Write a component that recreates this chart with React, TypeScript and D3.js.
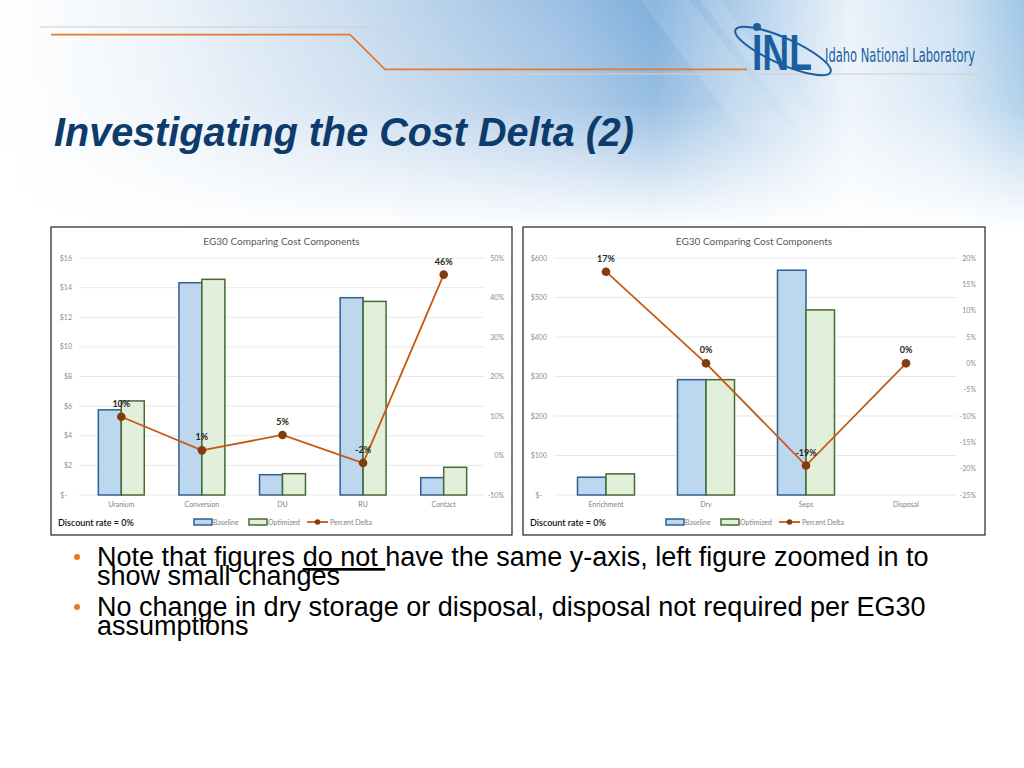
import React from 'react';
import * as d3 from 'd3';

// ---------- Data ----------
const leftCategories = ['Uranium', 'Conversion', 'DU', 'RU', 'Contact'];
const leftBaseline = [5.75, 14.33, 1.37, 13.32, 1.17];
const leftOptimized = [6.35, 14.56, 1.44, 13.07, 1.87];
const leftDelta = [0.098, 0.013, 0.052, -0.019, 0.458];
const leftCostTicks = [0, 2, 4, 6, 8, 10, 12, 14, 16];
const leftPctTicks = [-0.1, 0, 0.1, 0.2, 0.3, 0.4, 0.5];

const rightCategories = ['Enrichment', 'Dry', 'Seps', 'Disposal'];
const rightBaseline = [45, 292, 569, 0];
const rightOptimized = [53.5, 292, 468.6, 0];
const rightDelta = [0.174, 0, -0.194, 0];
const rightCostTicks = [0, 100, 200, 300, 400, 500, 600];
const rightPctTicks = [-0.25, -0.2, -0.15, -0.1, -0.05, 0, 0.05, 0.1, 0.15, 0.2];

const chartTitle = 'EG30 Comparing Cost Components';
const discountText = 'Discount rate = 0%';
const legendLabels = ['Baseline', 'Optimized', 'Percent Delta'];

const slideTitle = 'Investigating the Cost Delta (2)';
const bullets = [
  { before: 'Note that figures ', under: 'do not ', after: 'have the same y-axis, left figure zoomed in to', cont: 'show small changes' },
  { before: 'No change in dry storage or disposal, disposal not required per EG30', under: '', after: '', cont: 'assumptions' },
];

// ---------- Styles ----------
const C = {
  baseFill: '#bdd7ee',
  baseStroke: '#2f5f91',
  optFill: '#e2efda',
  optStroke: '#456b30',
  line: '#c55a11',
  marker: '#843c0c',
  grid: '#e3e3e3',
  tick: '#8c8c8c',
};
const chartFont = 'Lato, "Open Sans", sans-serif';

const pct = (v: number) => `${Math.round(v * 100)}%`;
const money = (v: number) => (v === 0 ? '$-' : `$${v}`);

type ChartProps = {
  fx: number; fy: number; fw: number; fh: number;
  pl: number; pr: number; pt: number; pb: number;
  categories: string[]; baseline: number[]; optimized: number[]; delta: number[];
  costMax: number; costTicks: number[]; pctDomain: [number, number]; pctTicks: number[];
};

function Chart(p: ChartProps) {
  const x = d3.scaleBand<string>().domain(p.categories).range([p.pl, p.pr]).paddingInner(0.43).paddingOuter(0.215);
  const yL = d3.scaleLinear().domain([0, p.costMax]).range([p.pb, p.pt]);
  const yR = d3.scaleLinear().domain(p.pctDomain).range([p.pb, p.pt]);
  const bw = x.bandwidth() / 2;
  const cx = (c: string) => (x(c) as number) + x.bandwidth() / 2;
  const linePath = d3.line<number>().x((_, i) => cx(p.categories[i])).y((d) => yR(d))(p.delta) as string;
  const lx = p.fx + 143;
  const ly = 522;
  return (
    <g fontFamily={chartFont}>
      <rect x={p.fx} y={p.fy} width={p.fw} height={p.fh} fill="#fff" stroke="#222" strokeWidth={1.2} />
      <text x={p.fx + p.fw / 2} y={245} textAnchor="middle" fontSize={10} fill="#595959">{chartTitle}</text>
      {p.costTicks.map((t) => (
        <g key={'g' + t}>
          <line x1={p.pl - 2} x2={p.pr} y1={yL(t)} y2={yL(t)} stroke={C.grid} strokeWidth={0.8} />
          <text x={p.pl - (t === 0 ? 14 : 9)} y={yL(t) + 2.5} textAnchor="end" fontSize={7} fill={C.tick}>{money(t)}</text>
        </g>
      ))}
      {p.pctTicks.map((t) => (
        <text key={'p' + t} x={p.pr + 20} y={yR(t) + 2.5} textAnchor="end" fontSize={7} fill={C.tick}>{pct(t)}</text>
      ))}
      {p.categories.map((c, i) => (
        <g key={c}>
          {p.baseline[i] > 0 && (
            <rect x={x(c)} y={yL(p.baseline[i])} width={bw} height={yL(0) - yL(p.baseline[i])} fill={C.baseFill} stroke={C.baseStroke} strokeWidth={1.5} />
          )}
          {p.optimized[i] > 0 && (
            <rect x={(x(c) as number) + bw} y={yL(p.optimized[i])} width={bw} height={yL(0) - yL(p.optimized[i])} fill={C.optFill} stroke={C.optStroke} strokeWidth={1.5} />
          )}
          <text x={cx(c)} y={507} textAnchor="middle" fontSize={7} fill="#7f7f7f">{c}</text>
        </g>
      ))}
      <path d={linePath} fill="none" stroke={C.line} strokeWidth={1.8} />
      {p.delta.map((d, i) => (
        <g key={'d' + i}>
          <circle cx={cx(p.categories[i])} cy={yR(d)} r={4.3} fill={C.marker} />
          <text x={cx(p.categories[i])} y={yR(d) - 10} textAnchor="middle" fontSize={9} fontWeight={700} fill="#262626">{pct(d)}</text>
        </g>
      ))}
      <text x={p.fx + 7} y={ly + 3.5} fontSize={9} fontWeight={600} fill="#111">{discountText}</text>
      <rect x={lx} y={ly - 3} width={18} height={6} fill={C.baseFill} stroke={C.baseStroke} strokeWidth={1.5} />
      <text x={lx + 19} y={ly + 2.5} fontSize={7} fill="#7f7f7f">{legendLabels[0]}</text>
      <rect x={lx + 55} y={ly - 3} width={18} height={6} fill={C.optFill} stroke={C.optStroke} strokeWidth={1.5} />
      <text x={lx + 74} y={ly + 2.5} fontSize={7} fill="#7f7f7f">{legendLabels[1]}</text>
      <line x1={lx + 113} x2={lx + 134} y1={ly} y2={ly} stroke={C.line} strokeWidth={1.8} />
      <circle cx={lx + 123.5} cy={ly} r={2.8} fill={C.marker} />
      <text x={lx + 136} y={ly + 2.5} fontSize={7} fill="#7f7f7f">{legendLabels[2]}</text>
    </g>
  );
}

function Header() {
  return (
    <g>
      <defs>
        <linearGradient id="bgH" x1="0" x2="1" y1="0" y2="0">
          <stop offset="0" stopColor="#ffffff" />
          <stop offset="0.15" stopColor="#eef4fa" />
          <stop offset="0.35" stopColor="#c9dcef" />
          <stop offset="0.55" stopColor="#9cc0e4" />
          <stop offset="0.64" stopColor="#7eaedb" />
          <stop offset="0.73" stopColor="#b3d0eb" />
          <stop offset="0.83" stopColor="#eaf2fa" />
          <stop offset="0.93" stopColor="#cfe2f3" />
          <stop offset="1" stopColor="#9fc6e6" />
        </linearGradient>
        <linearGradient id="fadeV" x1="0" x2="0" y1="0" y2="1">
          <stop offset="0" stopColor="#fff" stopOpacity={1} />
          <stop offset="0.45" stopColor="#fff" stopOpacity={0.8} />
          <stop offset="1" stopColor="#fff" stopOpacity={0} />
        </linearGradient>
        <mask id="fadeMask">
          <rect x={0} y={0} width={1024} height={230} fill="url(#fadeV)" />
        </mask>
      </defs>
      <rect x={0} y={0} width={1024} height={768} fill="#fff" />
      <rect x={0} y={0} width={1024} height={230} fill="url(#bgH)" mask="url(#fadeMask)" />
      <polygon points="640,0 690,0 790,130 740,130" fill="#fff" opacity={0.12} />
      <polygon points="700,0 720,0 820,130 800,130" fill="#fff" opacity={0.12} />
      {/* grey and orange rules */}
      <polyline points="40,27 383,27 433,74 977,74" fill="none" stroke="#d9cfc6" strokeWidth={2} opacity={0.55} />
      <polyline points="51,34.7 350,34.7 385,69.3 747,69.3" fill="none" stroke="#e8782a" strokeWidth={1.8} />
      {/* logo */}
      <ellipse cx={783} cy={51} rx={52} ry={13} transform="rotate(24 783 51)" fill="none" stroke="#1b5e9d" strokeWidth={2} />
      <circle cx={757} cy={27} r={4} fill="#1b5e9d" />
      <text x={752} y={70} fontFamily='"Liberation Sans", Arial, sans-serif' fontWeight={700} fontSize={50} fill="#1b5e9d" textLength={60} lengthAdjust="spacingAndGlyphs">INL</text>
      <text x={825} y={62} fontFamily='"Liberation Sans Narrow", "DejaVu Sans Condensed", sans-serif' fontSize={20} fill="#1b5e9d" textLength={150} lengthAdjust="spacingAndGlyphs">Idaho National Laboratory</text>
      {/* slide title */}
      <text x={54} y={146} fontFamily='"Liberation Sans", Arial, sans-serif' fontWeight={700} fontStyle="italic" fontSize={40} fill="#0d3b6c" textLength={580} lengthAdjust="spacingAndGlyphs">{slideTitle}</text>
    </g>
  );
}

function Bullets() {
  const base = [566, 616];
  return (
    <g fontFamily='"Liberation Sans", Arial, sans-serif' fontSize={27} fill="#000">
      {bullets.map((b, i) => (
        <g key={i}>
          <circle cx={77} cy={base[i] - 9} r={3} fill="#e87722" />
          <text x={97} y={base[i]}>
            {b.before}
            {b.under && <tspan textDecoration="underline">{b.under}</tspan>}
            {b.after}
          </text>
          <text x={97} y={base[i] + 19}>{b.cont}</text>
        </g>
      ))}
    </g>
  );
}

export default function App() {
  return (
    <svg width={1024} height={768} style={{ position: 'absolute', left: 0, top: 0 }}>
      <Header />
      <Chart
        fx={51} fy={227} fw={461} fh={308}
        pl={81} pr={484} pt={258} pb={495}
        categories={leftCategories} baseline={leftBaseline} optimized={leftOptimized} delta={leftDelta}
        costMax={16} costTicks={leftCostTicks} pctDomain={[-0.1, 0.5]} pctTicks={leftPctTicks}
      />
      <Chart
        fx={523} fy={227} fw={462} fh={308}
        pl={556} pr={956} pt={258} pb={495}
        categories={rightCategories} baseline={rightBaseline} optimized={rightOptimized} delta={rightDelta}
        costMax={600} costTicks={rightCostTicks} pctDomain={[-0.25, 0.2]} pctTicks={rightPctTicks}
      />
      <Bullets />
    </svg>
  );
}
